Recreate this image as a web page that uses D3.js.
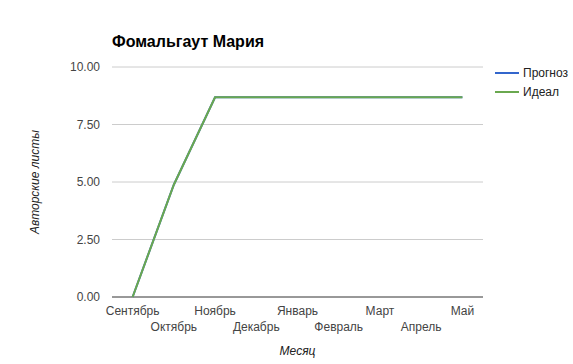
<!DOCTYPE html>
<html lang="ru">
<head>
<meta charset="UTF-8">
<title>Фомальгаут Мария</title>
<script src="https://d3js.org/d3.v7.min.js"></script>
<style>
  body { margin: 0; background: #fff; }
  svg { font-family: Arial, "Liberation Sans", sans-serif; }
</style>
</head>
<body>
<div id="chart"></div>
<script>

// data
const months = ["Сентябрь", "Октябрь", "Ноябрь", "Декабрь", "Январь", "Февраль", "Март", "Апрель", "Май"];
const forecast = [0, 4.88, 8.68, 8.68, 8.68, 8.68, 8.68, 8.68, 8.68];
const ideal = [0, 4.88, 8.68, 8.68, 8.68, 8.68, 8.68, 8.68, 8.68];
const yTicks = [0, 2.5, 5, 7.5, 10];
const seriesNames = ["Прогноз", "Идеал"];
const seriesColors = ["#3366cc", "#6aa84f"];

const width = 573, height = 364;
const margin = { left: 112, right: 90, top: 67, bottom: 67 };

const svg = d3.select("#chart").append("svg")
  .attr("width", width)
  .attr("height", height);

const x = d3.scalePoint()
  .domain(months)
  .range([margin.left, width - margin.right])
  .padding(0.5);

const y = d3.scaleLinear()
  .domain([0, 10])
  .range([height - margin.bottom, margin.top]);

// gridlines
svg.append("g")
  .selectAll("line")
  .data(yTicks.filter(d => d > 0))
  .join("line")
  .attr("x1", margin.left)
  .attr("x2", width - margin.right)
  .attr("y1", d => y(d))
  .attr("y2", d => y(d))
  .attr("stroke", "#cccccc")
  .attr("stroke-width", 1);

// y tick labels
svg.append("g")
  .selectAll("text")
  .data(yTicks)
  .join("text")
  .attr("x", margin.left - 12)
  .attr("y", d => y(d))
  .attr("dy", "0.35em")
  .attr("text-anchor", "end")
  .attr("font-size", 12)
  .attr("fill", "#444")
  .text(d => d3.format(".2f")(d));

// baseline
svg.append("line")
  .attr("x1", margin.left)
  .attr("x2", width - margin.right)
  .attr("y1", y(0))
  .attr("y2", y(0))
  .attr("stroke", "#333")
  .attr("stroke-width", 1);

// x tick labels, staggered in two rows
svg.append("g")
  .selectAll("text")
  .data(months)
  .join("text")
  .attr("x", d => x(d))
  .attr("y", (d, i) => i % 2 === 0 ? y(0) + 18 : y(0) + 34)
  .attr("text-anchor", "middle")
  .attr("font-size", 12)
  .attr("fill", "#444")
  .text(d => d);

// lines
const line = d3.line()
  .x((d, i) => x(months[i]))
  .y(d => y(d));

[forecast, ideal].forEach((s, k) => {
  svg.append("path")
    .datum(s)
    .attr("fill", "none")
    .attr("stroke", seriesColors[k])
    .attr("stroke-width", 2)
    .attr("d", line);
});

// title
svg.append("text")
  .attr("x", margin.left)
  .attr("y", 47)
  .attr("font-size", 16)
  .attr("font-weight", "bold")
  .attr("fill", "#000")
  .text("Фомальгаут Мария");

// axis titles
svg.append("text")
  .attr("x", (margin.left + width - margin.right) / 2)
  .attr("y", 355)
  .attr("text-anchor", "middle")
  .attr("font-size", 12)
  .attr("font-style", "italic")
  .attr("fill", "#222")
  .text("Месяц");

svg.append("text")
  .attr("transform", "translate(39," + (y(5)) + ") rotate(-90)")
  .attr("text-anchor", "middle")
  .attr("font-size", 12)
  .attr("font-style", "italic")
  .attr("fill", "#222")
  .text("Авторские листы");

// legend
const legend = svg.append("g")
  .selectAll("g")
  .data(seriesNames)
  .join("g")
  .attr("transform", (d, i) => "translate(495," + (73 + i * 19) + ")");

legend.append("line")
  .attr("x1", 0)
  .attr("x2", 24)
  .attr("stroke", (d, i) => seriesColors[i])
  .attr("stroke-width", 2);

legend.append("text")
  .attr("x", 28)
  .attr("dy", "0.35em")
  .attr("font-size", 12)
  .attr("fill", "#222")
  .text(d => d);

</script>
</body>
</html>
